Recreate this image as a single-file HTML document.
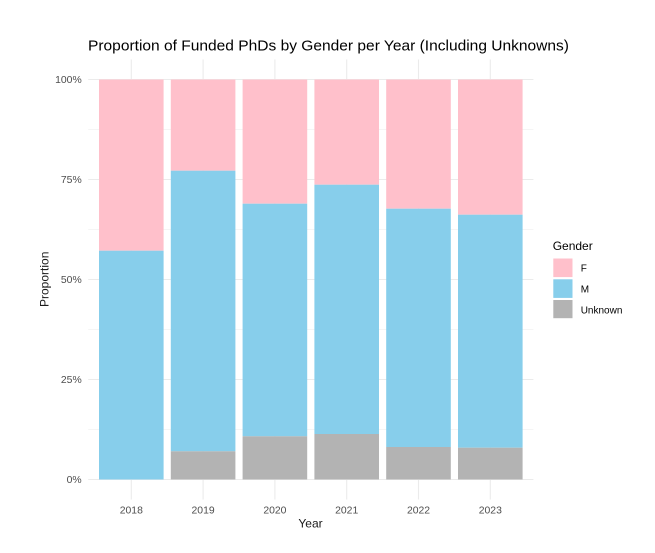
<!DOCTYPE html>
<html><head><meta charset="utf-8"><style>
html,body{margin:0;padding:0;background:#fff;}
svg{display:block;}
text{font-family:"Liberation Sans",Arial,sans-serif;}
</style></head><body>
<svg width="655" height="553" viewBox="0 0 655 553" xmlns="http://www.w3.org/2000/svg">
<rect width="655" height="553" fill="#fff"/>
<!-- minor grid -->
<g stroke="#ebebeb" stroke-width="0.6">
<line x1="88.2" x2="533.4" y1="429.5" y2="429.5"/>
<line x1="88.2" x2="533.4" y1="329.5" y2="329.5"/>
<line x1="88.2" x2="533.4" y1="229.5" y2="229.5"/>
<line x1="88.2" x2="533.4" y1="129.5" y2="129.5"/>
</g>
<g stroke="#ebebeb" stroke-width="1.1">
<line x1="88.2" x2="533.4" y1="479.5" y2="479.5"/>
<line x1="88.2" x2="533.4" y1="379.5" y2="379.5"/>
<line x1="88.2" x2="533.4" y1="279.5" y2="279.5"/>
<line x1="88.2" x2="533.4" y1="179.5" y2="179.5"/>
<line x1="88.2" x2="533.4" y1="79.5" y2="79.5"/>
<line x1="131.3" x2="131.3" y1="59.5" y2="499.5"/>
<line x1="203.1" x2="203.1" y1="59.5" y2="499.5"/>
<line x1="274.9" x2="274.9" y1="59.5" y2="499.5"/>
<line x1="346.7" x2="346.7" y1="59.5" y2="499.5"/>
<line x1="418.5" x2="418.5" y1="59.5" y2="499.5"/>
<line x1="490.3" x2="490.3" y1="59.5" y2="499.5"/>
</g>
<!-- bars -->
<g>
<!-- 2018 -->
<rect x="99" y="79.5" width="64.6" height="171.2" fill="#FFC0CB"/>
<rect x="99" y="250.7" width="64.6" height="228.8" fill="#87CEEB"/>
<!-- 2019 -->
<rect x="170.8" y="79.5" width="64.6" height="91.2" fill="#FFC0CB"/>
<rect x="170.8" y="170.7" width="64.6" height="280.6" fill="#87CEEB"/>
<rect x="170.8" y="451.3" width="64.6" height="28.2" fill="#B3B3B3"/>
<!-- 2020 -->
<rect x="242.6" y="79.5" width="64.6" height="124.2" fill="#FFC0CB"/>
<rect x="242.6" y="203.7" width="64.6" height="232.6" fill="#87CEEB"/>
<rect x="242.6" y="436.3" width="64.6" height="43.2" fill="#B3B3B3"/>
<!-- 2021 -->
<rect x="314.4" y="79.5" width="64.6" height="105.2" fill="#FFC0CB"/>
<rect x="314.4" y="184.7" width="64.6" height="249.3" fill="#87CEEB"/>
<rect x="314.4" y="434" width="64.6" height="45.5" fill="#B3B3B3"/>
<!-- 2022 -->
<rect x="386.2" y="79.5" width="64.6" height="129.2" fill="#FFC0CB"/>
<rect x="386.2" y="208.7" width="64.6" height="238.3" fill="#87CEEB"/>
<rect x="386.2" y="447" width="64.6" height="32.5" fill="#B3B3B3"/>
<!-- 2023 -->
<rect x="458" y="79.5" width="64.6" height="135.2" fill="#FFC0CB"/>
<rect x="458" y="214.7" width="64.6" height="233" fill="#87CEEB"/>
<rect x="458" y="447.7" width="64.6" height="31.8" fill="#B3B3B3"/>
</g>
<!-- y tick labels -->
<g font-size="10.4" fill="#4d4d4d" text-anchor="end">
<text x="81.7" y="483.2">0%</text>
<text x="81.7" y="383.2">25%</text>
<text x="81.7" y="283.2">50%</text>
<text x="81.7" y="183.2">75%</text>
<text x="81.7" y="83.2">100%</text>
</g>
<!-- x tick labels -->
<g font-size="10.4" fill="#4d4d4d" text-anchor="middle">
<text x="131.3" y="513.3">2018</text>
<text x="203.1" y="513.3">2019</text>
<text x="274.9" y="513.3">2020</text>
<text x="346.7" y="513.3">2021</text>
<text x="418.5" y="513.3">2022</text>
<text x="490.3" y="513.3">2023</text>
</g>
<!-- axis titles -->
<text x="310.5" y="527.7" font-size="12" fill="#1a1a1a" text-anchor="middle">Year</text>
<text transform="translate(48.3,279.3) rotate(-90)" font-size="12" fill="#1a1a1a" text-anchor="middle">Proportion</text>
<!-- title -->
<text x="88" y="50.7" font-size="14.5" fill="#000" textLength="481" lengthAdjust="spacingAndGlyphs">Proportion of Funded PhDs by Gender per Year (Including Unknowns)</text>
<!-- legend -->
<text x="552.7" y="250" font-size="12" fill="#000">Gender</text>
<rect x="553.3" y="258.5" width="19.2" height="18.6" fill="#FFC0CB"/>
<rect x="553.3" y="279.3" width="19.2" height="18.6" fill="#87CEEB"/>
<rect x="553.3" y="300" width="19.2" height="18.2" fill="#B3B3B3"/>
<g font-size="10" fill="#000">
<text x="580.7" y="271.7">F</text>
<text x="580.7" y="292.3">M</text>
<text x="580.7" y="313.3">Unknown</text>
</g>
</svg>
</body></html>
